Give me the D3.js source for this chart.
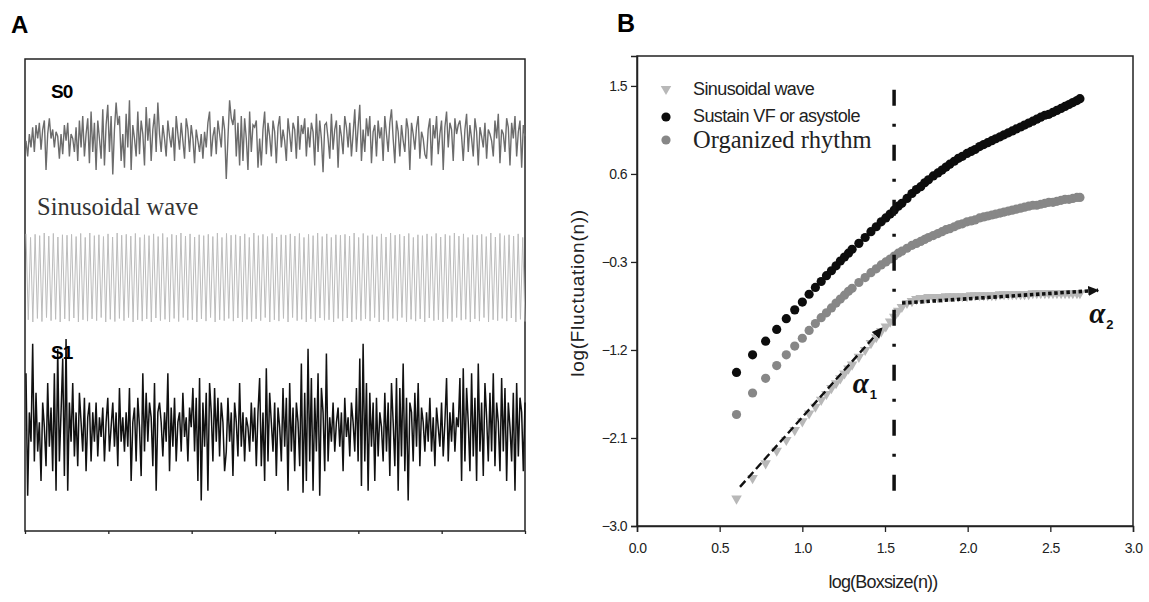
<!DOCTYPE html>
<html><head><meta charset="utf-8">
<script src="https://cdn.jsdelivr.net/npm/d3@7"></script>
<style>body{margin:0;background:#fff;} svg{display:block;}</style>
</head><body><svg id="c" width="1149" height="602"></svg>
<script>
// ---------- Panel A: traces (sample values, arbitrary units) ----------
const s0Values = [0.05,-0.3,0.2,-0.1,0.35,-0.2,0.4,0.1,0.45,-0.15,0.3,0.5,-0.6,0.2,0.55,0.1,0.3,-0.1,0.25,0.15,
-0.35,0.2,-0.25,0.4,0.05,0.45,-0.3,0.2,0.1,-0.2,0.35,-0.4,0.5,-0.1,0.6,-0.3,0.2,0.55,-0.45,0.7,
-0.2,0.45,-0.6,0.5,0.1,-0.35,0.75,-0.5,0.4,0.85,-0.2,0.6,-0.7,0.3,0.9,0.4,0.6,-0.4,0.2,-0.55,
0.65,-0.1,0.95,-0.6,0.4,0.1,-0.3,0.7,-0.25,0.5,0.2,-0.5,0.8,0.05,0.55,-0.4,0.3,0.65,-0.2,0.9,
0.2,-0.2,0.4,0.1,-0.3,0.5,0.15,-0.1,0.35,-0.4,0.6,0.2,-0.15,0.45,0.05,-0.35,0.55,0.3,-0.2,0.4,
0.1,-0.45,0.3,0.05,-0.2,0.2,-0.35,0.25,-0.1,0.45,0.7,-0.3,0.15,0.35,-0.25,0.5,0.2,-0.1,0.6,0.3,
-0.8,0.1,0.95,0.55,0.4,0.75,-0.3,0.45,-0.5,0.6,-0.4,0.55,0.1,-0.6,0.7,-0.2,0.4,0.35,0.5,-0.55,
0.1,-0.5,0.3,0.7,-0.25,0.45,0.15,-0.3,0.5,0.25,-0.45,0.35,0.6,-0.1,0.3,0.05,-0.4,0.55,0.2,-0.2,
0.45,0.3,-0.35,0.6,-0.15,0.4,0.2,0.55,-0.3,0.35,-0.1,0.45,0.25,-0.5,0.65,-0.2,0.5,0.1,-0.65,0.4,
0.45,0.1,-0.35,0.65,-0.15,0.3,0.5,-0.55,0.4,0.15,-0.25,0.6,0.35,-0.1,0.45,-0.3,0.2,0.75,-0.2,0.35,
0.85,-0.4,0.3,-0.2,0.55,0.15,0.6,-0.45,0.25,0.4,-0.3,0.5,0.1,0.35,-0.4,0.6,0.2,-0.2,0.45,0.75,
0.1,-0.45,0.5,0.25,-0.3,0.4,0.05,-0.2,0.55,0.3,-0.6,0.45,0.2,-0.15,0.35,0.6,-0.35,0.25,0.1,-0.25,
-0.35,0.3,0.55,-0.5,0.4,0.1,0.6,-0.25,0.2,0.5,-0.6,0.35,0.7,-0.1,0.45,0.3,-0.4,0.55,0.2,0.4,
0.5,0.15,-0.4,0.3,0.65,-0.2,0.4,0.1,-0.3,0.55,0.25,-0.5,0.35,0.15,-0.1,0.45,-0.35,0.3,0.2,0.05,
-0.3,0.5,0.1,0.65,-0.45,0.3,0.2,-0.2,0.55,0.35,-0.5,0.45,0.1,0.6,-0.3,0.25,0.5,-0.55,0.4,0.15];

const sineValues = [0.98,-0.95,0.9,-1,0.97,-0.92,0.94,-0.99,1,-0.9,0.93,-0.97,0.99,-0.94,0.91,-1,0.96,-0.93,0.95,-0.98,
0.97,-0.91,0.92,-1,0.99,-0.95,0.9,-0.98,1,-0.93,0.94,-0.97,0.96,-0.9,0.92,-1,0.98,-0.94,0.91,-0.99,
1,-0.92,0.95,-0.97,0.97,-0.9,0.93,-1,0.99,-0.95,0.9,-0.98,0.96,-0.93,0.94,-1,0.98,-0.91,0.92,-0.97,
0.99,-0.94,0.9,-1,0.97,-0.92,0.95,-0.99,1,-0.9,0.93,-0.96,0.98,-0.95,0.91,-1,0.96,-0.93,0.94,-0.98,
0.97,-0.9,0.92,-1,1,-0.95,0.9,-0.97,0.99,-0.92,0.95,-0.98,0.96,-0.91,0.93,-1,0.98,-0.94,0.9,-0.99,
1,-0.93,0.94,-0.97,0.97,-0.9,0.92,-1,0.99,-0.95,0.91,-0.98,0.96,-0.92,0.95,-1,0.98,-0.9,0.93,-0.97,
0.99,-0.94,0.9,-1,0.97,-0.93,0.94,-0.99,1,-0.91,0.92,-0.96,0.98,-0.95,0.9,-1,0.96,-0.92,0.95,-0.98,
0.97,-0.91,0.93,-1,1,-0.94,0.9,-0.97,0.99,-0.93,0.94,-0.98,0.96,-0.9,0.92,-1,0.98,-0.95,0.91,-0.99,
1,-0.92,0.95,-0.97,0.97,-0.9,0.93,-1,0.99,-0.94,0.9,-0.98,0.96,-0.93,0.94,-1,0.98,-0.91,0.92,-0.97,
0.99,-0.95,0.91,-1,0.97,-0.92,0.94,-0.99,1,-0.9,0.93,-0.96,0.98,-0.94,0.9,-1,0.96,-0.93,0.95,-0.98,
0.97,-0.9,0.92,-1,1,-0.95,0.91,-0.97,0.99,-0.92,0.94,-0.98,0.96,-0.91,0.93,-1,0.98,-0.94,0.9,-0.99];

const s1Values = [0.6,-0.65,0.2,-0.1,0.9,-0.3,0.4,-0.2,0.1,-0.5,0.3,0.05,-0.35,0.5,-0.15,0.25,-0.4,0.6,-0.6,0.85,
-0.3,0.2,0.75,-0.45,0.95,-0.6,0.3,-0.1,0.5,-0.25,0.2,-0.35,0.4,0.1,-0.2,0.35,-0.4,0.15,0.3,-0.3,
0.2,-0.1,0.3,-0.25,0.15,-0.05,0.25,-0.3,0.1,0.35,-0.2,0.05,0.3,-0.15,0.2,-0.35,0.45,-0.1,0.15,-0.2,
0.2,-0.15,0.45,-0.5,0.1,0.25,-0.3,0.35,0.05,-0.45,0.6,-0.2,0.4,-0.1,0.3,0.15,-0.35,0.5,-0.6,0.2,
0.3,0.1,-0.25,0.2,-0.1,0.6,-0.4,0.25,-0.15,0.35,-0.3,0.1,0.2,-0.2,0.4,-0.05,0.15,-0.3,0.25,0.05,
0.45,-0.2,0.35,-0.5,0.55,-0.7,0.3,-0.15,0.4,-0.6,0.5,0.2,-0.3,0.45,-0.1,0.35,-0.25,0.3,0.1,-0.4,
-0.2,0.35,-0.1,0.2,-0.45,0.3,0.1,-0.25,0.5,-0.15,0.2,-0.3,0.15,0.05,-0.2,0.3,-0.1,0.25,-0.35,0.2,
0.55,-0.35,0.2,-0.5,0.65,-0.3,0.4,0.1,-0.2,0.3,-0.45,0.25,0.05,-0.3,0.45,-0.15,0.35,-0.6,0.5,-0.2,
0.25,-0.4,0.3,0.1,-0.35,0.7,-0.62,0.4,-0.5,0.85,-0.3,0.55,-0.6,0.35,-0.2,0.6,-0.65,0.45,0.2,-0.4,
0.8,-0.3,0.15,-0.1,0.3,-0.2,0.1,0.25,-0.15,0.2,-0.4,0.35,-0.05,0.15,-0.25,0.3,0.1,-0.2,0.45,-0.3,
0.75,-0.55,0.9,-0.3,0.5,-0.6,0.4,-0.15,0.3,-0.5,0.35,-0.25,0.2,0.05,-0.3,0.4,-0.2,0.3,-0.45,0.5,
0.1,-0.35,0.55,-0.6,0.45,-0.25,0.7,-0.4,0.35,-0.7,0.3,0.2,-0.3,0.4,-0.15,0.5,-0.35,0.25,0.1,-0.2,
0.2,-0.1,0.35,-0.2,0.15,-0.35,0.25,0.05,-0.15,0.3,-0.25,0.1,0.55,-0.3,0.2,-0.1,0.3,-0.2,0.15,0.05,
0.55,-0.5,0.65,-0.3,0.45,0.1,-0.4,0.6,-0.25,0.35,-0.5,0.7,-0.2,0.3,-0.45,0.5,0.15,-0.3,0.4,-0.2,
0.6,-0.35,0.3,0.1,-0.4,0.55,-0.2,0.45,-0.5,0.3,0.05,-0.3,0.4,-0.6,0.5,-0.25,0.35,0.2,-0.4,0.3];

const panelATicks = [0,1,2,3,4,5,6];

// ---------- Panel B: DFA fluctuation curves ----------
const boxLog = [0.602,0.699,0.778,0.845,0.903,0.954,1.000,1.041,1.079,1.114,
1.146,1.176,1.204,1.230,1.255,1.279,1.301,1.342,1.380,1.415,
1.447,1.477,1.505,1.531,1.556,1.580,1.602,1.633,1.663,1.690,
1.716,1.740,1.763,1.792,1.820,1.845,1.869,1.892,1.919,1.944,
1.968,1.996,2.021,2.045,2.072,2.097,2.121,2.146,2.170,2.196,
2.220,2.246,2.270,2.294,2.320,2.344,2.369,2.394,2.418,2.442,
2.467,2.491,2.516,2.540,2.565,2.589,2.613,2.636,2.661,2.679];

const sinusoidalY = [-2.72,-2.51,-2.36,-2.23,-2.12,-2.02,-1.93,-1.85,-1.78,-1.71,
-1.65,-1.59,-1.54,-1.49,-1.44,-1.39,-1.35,-1.27,-1.20,-1.13,
-1.07,-1.01,-0.96,-0.91,-0.86,-0.80,-0.76,-0.72,-0.70,-0.68,
-0.67,-0.67,-0.66,-0.66,-0.66,-0.66,-0.65,-0.65,-0.65,-0.65,
-0.65,-0.65,-0.64,-0.64,-0.64,-0.64,-0.64,-0.64,-0.64,-0.63,
-0.63,-0.63,-0.63,-0.63,-0.63,-0.63,-0.63,-0.62,-0.62,-0.62,
-0.62,-0.62,-0.62,-0.62,-0.62,-0.62,-0.62,-0.62,-0.62,-0.62];

const sustainY = [-1.43,-1.25,-1.11,-0.99,-0.88,-0.79,-0.71,-0.63,-0.56,-0.50,
-0.44,-0.39,-0.34,-0.29,-0.25,-0.21,-0.17,-0.11,-0.05,0.01,
0.06,0.11,0.15,0.19,0.23,0.27,0.30,0.35,0.40,0.44,
0.47,0.51,0.54,0.58,0.61,0.64,0.67,0.70,0.73,0.76,
0.78,0.81,0.83,0.85,0.88,0.90,0.92,0.94,0.96,0.98,
1.00,1.02,1.04,1.06,1.08,1.10,1.12,1.14,1.16,1.18,
1.20,1.21,1.23,1.25,1.27,1.29,1.31,1.33,1.35,1.37];

const organizedY = [-1.86,-1.64,-1.49,-1.36,-1.25,-1.16,-1.08,-1.00,-0.93,-0.87,
-0.82,-0.77,-0.72,-0.68,-0.64,-0.60,-0.57,-0.51,-0.46,-0.41,
-0.37,-0.33,-0.30,-0.27,-0.24,-0.21,-0.19,-0.16,-0.13,-0.11,
-0.09,-0.07,-0.05,-0.03,-0.01,0.01,0.03,0.04,0.06,0.08,
0.09,0.11,0.12,0.13,0.15,0.16,0.17,0.18,0.19,0.20,
0.21,0.22,0.23,0.24,0.25,0.26,0.27,0.28,0.28,0.29,
0.30,0.31,0.31,0.32,0.33,0.34,0.34,0.35,0.36,0.36];

const xTicks = [0,0.5,1,1.5,2,2.5,3];
const yTicks = [-3,-2.1,-1.2,-0.3,0.6,1.5];
const legendLabels = ["Sinusoidal wave","Sustain VF or asystole","Organized rhythm"];
const crossover = 1.555;
const crossoverSpan = [-2.82, 1.46];
const alpha1Arrow = [[0.623,-2.60],[1.482,-0.975]];
const alpha2Arrow = [[1.603,-0.72],[2.789,-0.59]];
const alpha1Pos = [1.305,-1.64];
const alpha2Pos = [2.735,-0.92];

// ---------- drawing ----------
const svg = d3.select("#c");
const SANS = "'Liberation Sans', Arial, sans-serif";
const SERIF = "'Liberation Serif', 'Times New Roman', serif";

// Panel labels
svg.append("text").attr("x",11).attr("y",33).text("A")
  .style("font-family",SANS).style("font-weight","bold").style("font-size","24px");
svg.append("text").attr("x",617).attr("y",32).text("B")
  .style("font-family",SANS).style("font-weight","bold").style("font-size","25px");

// ----- Panel A -----
const A = {l:25, r:525, t:59, b:531};
function trace(values, cy, h, color, w){
  const xs = d3.scaleLinear().domain([0, values.length-1]).range([A.l+1, A.r]);
  const ys = d3.scaleLinear().domain([-1,1]).range([cy+h, cy-h]);
  svg.append("path")
    .attr("d", d3.line().x((d,i)=>xs(i)).y(d=>ys(d))(values))
    .attr("fill","none").attr("stroke",color).attr("stroke-width",w)
    .attr("stroke-linejoin","miter");
}
svg.append("rect").attr("x",A.l).attr("y",A.t).attr("width",A.r-A.l).attr("height",A.b-A.t)
  .attr("fill","none").attr("stroke","#222").attr("stroke-width",1.5);
trace(s0Values, 143, 45, "#6c6c6c", 1.4);
trace(sineValues, 277.5, 44.5, "#bcbcbc", 1);
trace(s1Values, 432, 98, "#111", 1.5);

const aTick = d3.scaleLinear().domain([0,6]).range([A.l, A.r]);
const gA = svg.append("g").attr("transform",`translate(0,${A.b})`)
  .call(d3.axisBottom(aTick).tickValues(panelATicks).tickSize(3).tickFormat(""));
gA.select(".domain").remove();
gA.selectAll(".tick line").attr("stroke","#222").attr("stroke-width",1.3);

svg.append("text").attr("x",51).attr("y",98).text("S0")
  .style("font-family",SANS).style("font-weight","bold").style("font-size","19px").style("letter-spacing","-1px");
svg.append("text").attr("x",51).attr("y",359).text("S1")
  .style("font-family",SANS).style("font-weight","bold").style("font-size","19px").style("letter-spacing","-1px");
svg.append("text").attr("x",37).attr("y",215).text("Sinusoidal wave")
  .style("font-family",SERIF).style("font-size","24.5px").attr("fill","#333");

// ----- Panel B -----
const x = d3.scaleLinear().domain([0,3]).range([637,1133]);
const y = d3.scaleLinear().domain([-3,1.806]).range([526,56]);

svg.append("rect").attr("x",x(0)).attr("y",y(1.806)).attr("width",x(3)-x(0)).attr("height",y(-3)-y(1.806))
  .attr("fill","none").attr("stroke","#222").attr("stroke-width",1.5);

const fmt = d3.format(".1f");
const gx = svg.append("g").attr("transform",`translate(0,${y(-3)})`)
  .call(d3.axisBottom(x).tickValues(xTicks).tickFormat(fmt).tickSize(6).tickPadding(11));
const gy = svg.append("g").attr("transform",`translate(${x(0)},0)`)
  .call(d3.axisLeft(y).tickValues(yTicks).tickFormat(fmt).tickSize(6).tickPadding(4));
[gx,gy].forEach(g=>{
  g.select(".domain").attr("stroke","#222").attr("stroke-width",1.5);
  g.selectAll(".tick line").attr("stroke","#222").attr("stroke-width",1.3);
  g.selectAll(".tick text").style("font-family",SANS).style("font-size","14px")
    .style("letter-spacing","-0.6px").attr("fill","#222");
});

svg.append("text").attr("x",883).attr("y",588).attr("text-anchor","middle").text("log(Boxsize(n))")
  .style("font-family",SANS).style("font-size","18px").style("letter-spacing","-0.8px").attr("fill","#222");
svg.append("text").attr("transform","translate(584,293) rotate(-90)").attr("text-anchor","middle")
  .text("log(Fluctuation(n))").style("font-family",SANS).style("font-size","19px")
  .style("letter-spacing","0.7px").attr("fill","#222");

// arrow marker
const defs = svg.append("defs");
defs.append("marker").attr("id","ah").attr("viewBox","0 0 10 10").attr("refX",9).attr("refY",5)
  .attr("markerWidth",11).attr("markerHeight",11).attr("markerUnits","userSpaceOnUse").attr("orient","auto")
  .append("path").attr("d","M0,0.5 L10,5 L0,9.5 Z").attr("fill","#111");

// series
const tri = d3.symbol(d3.symbolTriangle, 48);
svg.append("g").selectAll("path").data(boxLog.map((b,i)=>[b, sinusoidalY[i]])).join("path")
  .attr("d", tri).attr("transform", d=>`translate(${x(d[0])},${y(d[1])}) rotate(180)`).attr("fill","#b8b8b8");
svg.append("g").selectAll("circle").data(boxLog.map((b,i)=>[b, organizedY[i]])).join("circle")
  .attr("cx", d=>x(d[0])).attr("cy", d=>y(d[1])).attr("r",4.6).attr("fill","#878787");
svg.append("g").selectAll("circle").data(boxLog.map((b,i)=>[b, sustainY[i]])).join("circle")
  .attr("cx", d=>x(d[0])).attr("cy", d=>y(d[1])).attr("r",4.6).attr("fill","#0d0d0d");

// crossover line
svg.append("line").attr("x1",x(crossover)).attr("x2",x(crossover))
  .attr("y1",y(crossoverSpan[1])).attr("y2",y(crossoverSpan[0]))
  .attr("stroke","#111").attr("stroke-width",3.5).attr("stroke-dasharray","16,18,3,18");

// alpha arrows
const line = d3.line().x(d=>x(d[0])).y(d=>y(d[1]));
svg.append("path").attr("d", line(alpha1Arrow)).attr("stroke","#111").attr("stroke-width",2.4)
  .attr("stroke-dasharray","8,4").attr("fill","none").attr("marker-end","url(#ah)");
svg.append("path").attr("d", line(alpha2Arrow)).attr("stroke","#111").attr("stroke-width",3.6)
  .attr("stroke-dasharray","3.5,2.6").attr("fill","none").attr("marker-end","url(#ah)");

function alphaLabel(pos, sub){
  const t = svg.append("text").attr("x",x(pos[0])).attr("y",y(pos[1])).attr("fill","#111");
  t.append("tspan").text("α").style("font-family",SERIF).style("font-style","italic")
    .style("font-weight","bold").style("font-size","29px");
  t.append("tspan").text(sub).attr("dy",6).attr("dx",1).style("font-family",SANS)
    .style("font-weight","bold").style("font-size","13px");
}
alphaLabel(alpha1Pos,"1");
alphaLabel(alpha2Pos,"2");

// legend
const legX = 666, legRows = [89,117,140], legBase = [95,122,148];
const lg = svg.append("g");
lg.append("path").attr("d", d3.symbol(d3.symbolTriangle, 48)).attr("transform",`translate(${legX},${legRows[0]}) rotate(180)`).attr("fill","#b8b8b8");
lg.append("circle").attr("cx",legX).attr("cy",legRows[1]).attr("r",4.6).attr("fill","#0d0d0d");
lg.append("circle").attr("cx",legX).attr("cy",legRows[2]).attr("r",4.6).attr("fill","#878787");
legendLabels.forEach((t,i)=>{
  const el = lg.append("text").attr("x",693).attr("y",legBase[i]).text(t).attr("fill","#222");
  if(i<2) el.style("font-family",SANS).style("font-size","18px").style("letter-spacing","-0.6px");
  else el.style("font-family",SERIF).style("font-size","24.5px");
});
</script></body></html>
